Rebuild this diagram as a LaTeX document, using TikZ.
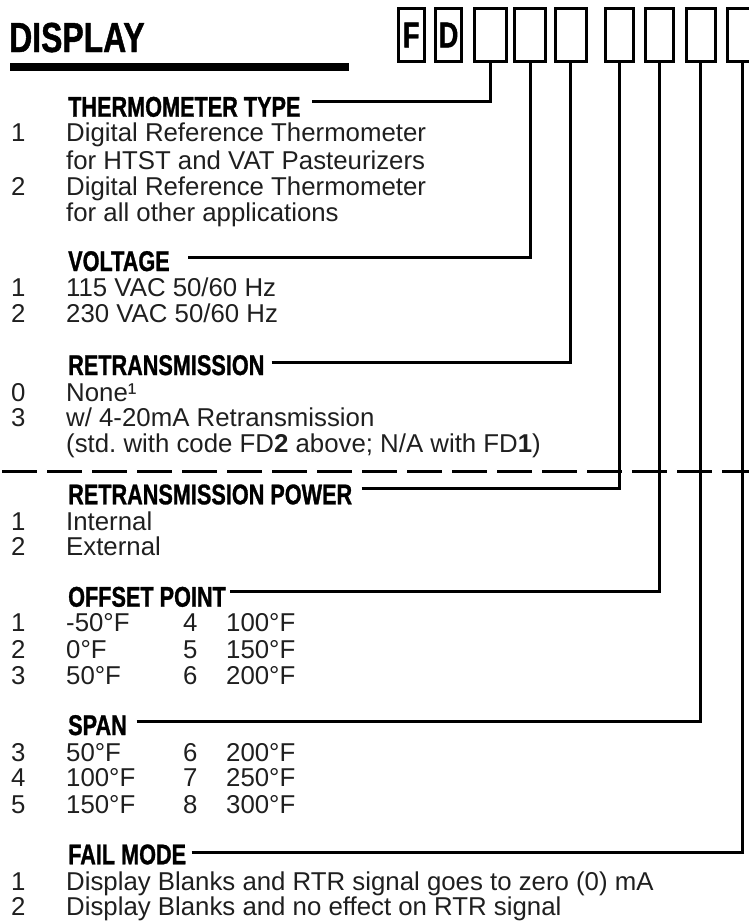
\documentclass[tikz,border=0pt]{standalone}
\usepackage{fontspec}
\setmainfont{Liberation Sans}
\newfontfamily\headfont[FakeStretch=0.76,FakeBold=1]{Liberation Sans Bold}
\begin{document}
\frenchspacing
\begin{tikzpicture}[x=1pt,y=-1pt,
  body/.style={anchor=base west,inner sep=0pt,font=\fontsize{25.8}{26}\selectfont,text=black!88},
  head/.style={anchor=base west,inner sep=0pt,font=\headfont\fontsize{28.5}{28}\selectfont},
  codebox/.style={draw,line width=3pt,inner sep=0pt,minimum height=53pt,font=\headfont\fontsize{36}{36}\selectfont},
  link/.style={line width=3pt}]
\useasboundingbox (0,0) rectangle (749,921);
% title
\node[anchor=base west,inner sep=0pt,font=\headfont\fontsize{42}{42}\selectfont] (title) at (9,52) {DISPLAY};
\fill (10,63) rectangle (349,71);
% code boxes
\node[codebox,minimum width=26pt] (b1) at (411.2,35) {F};
\node[codebox,minimum width=26pt] (b2) at (448.5,35) {D};
\node[codebox,minimum width=32pt] (b3) at (490,35) {};
\node[codebox,minimum width=31pt] (b4) at (530,35) {};
\node[codebox,minimum width=31pt] (b5) at (570.5,35) {};
\node[codebox,minimum width=28pt] (b6) at (619,35) {};
\node[codebox,minimum width=28pt] (b7) at (659,35) {};
\node[codebox,minimum width=29pt] (b8) at (700.5,35) {};
\node[codebox,minimum width=31pt] (b9) at (742.5,35) {};
% headings
\node[head] (h1) at (68,116.7) {THERMOMETER TYPE};
\node[head] (h2) at (68,271) {VOLTAGE};
\node[head] (h3) at (68,375) {RETRANSMISSION};
\node[head] (h4) at (68,504.3) {RETRANSMISSION POWER};
\node[head] (h5) at (68,606.7) {OFFSET POINT};
\node[head] (h6) at (68,735) {SPAN};
\node[head] (h7) at (68,864.3) {FAIL MODE};
% connector starts
\coordinate (s1) at (312,101.7);
\coordinate (s2) at (188,257.7);
\coordinate (s3) at (271.7,362.7);
\coordinate (s4) at (361.7,488.3);
\coordinate (s5) at (230,591.7);
\coordinate (s6) at (136.7,721.7);
\coordinate (s7) at (191.7,852.7);
\draw[link] (s1) -| (b3.south);
\draw[link] (s2) -| (b4.south);
\draw[link] (s3) -| (b5.south);
\draw[link] (s4) -| (b6.south);
\draw[link] (s5) -| (b7.south);
\draw[link] (s6) -| (b8.south);
\draw[link] (s7) -| (b9.south);
% dashed separator
\coordinate (dl) at (2,471.7);
\coordinate (dr) at (760,471.7);
\draw[line width=3pt,dash pattern=on 35pt off 10pt] (dl) -- (dr);
% thermometer type
\node[body] (t1n) at (11,141.7) {1};
\node[body] (t1) at (66,141.7) {Digital Reference Thermometer};
\node[body] (t1b) at (66,169) {for HTST and VAT Pasteurizers};
\node[body] (t2n) at (11,195) {2};
\node[body] (t2) at (66,195) {Digital Reference Thermometer};
\node[body] (t2b) at (66,221) {for all other applications};
% voltage
\node[body] (v1n) at (11,296.7) {1};
\node[body] (v1) at (66,296.7) {115 VAC 50/60 Hz};
\node[body] (v2n) at (11,322.7) {2};
\node[body] (v2) at (66,322.7) {230 VAC 50/60 Hz};
% retransmission
\node[body] (r0n) at (11,401) {0};
\node[body] (r0) at (66,401) {None¹};
\node[body] (r3n) at (11,426.7) {3};
\node[body] (r3) at (66,426.7) {w/ 4-20mA Retransmission};
\node[body] (r3b) at (66,452) {(std. with code FD\textbf{2} above; N/A with FD\textbf{1})};
% retransmission power
\node[body] (p1n) at (11,530) {1};
\node[body] (p1) at (66,530) {Internal};
\node[body] (p2n) at (11,555.7) {2};
\node[body] (p2) at (66,555.7) {External};
% offset point
\node[body] (o1n) at (11,631.7) {1};
\node[body] (o1) at (66,631.7) {-50°F};
\node[body] (o4n) at (183,631.7) {4};
\node[body] (o4) at (226,631.7) {100°F};
\node[body] (o2n) at (11,658.3) {2};
\node[body] (o2) at (66,658.3) {0°F};
\node[body] (o5n) at (183,658.3) {5};
\node[body] (o5) at (226,658.3) {150°F};
\node[body] (o3n) at (11,684.3) {3};
\node[body] (o3) at (66,684.3) {50°F};
\node[body] (o6n) at (183,684.3) {6};
\node[body] (o6) at (226,684.3) {200°F};
% span
\node[body] (sp3n) at (11,761) {3};
\node[body] (sp3) at (66,761) {50°F};
\node[body] (sp6n) at (183,761) {6};
\node[body] (sp6) at (226,761) {200°F};
\node[body] (sp4n) at (11,786.7) {4};
\node[body] (sp4) at (66,786.7) {100°F};
\node[body] (sp7n) at (183,786.7) {7};
\node[body] (sp7) at (226,786.7) {250°F};
\node[body] (sp5n) at (11,813.3) {5};
\node[body] (sp5) at (66,813.3) {150°F};
\node[body] (sp8n) at (183,813.3) {8};
\node[body] (sp8) at (226,813.3) {300°F};
% fail mode
\node[body] (f1n) at (11,890) {1};
\node[body] (f1) at (66,890) {Display Blanks and RTR signal goes to zero (0) mA};
\node[body] (f2n) at (11,915) {2};
\node[body] (f2) at (66,915) {Display Blanks and no effect on RTR signal};
\end{tikzpicture}
\end{document}
